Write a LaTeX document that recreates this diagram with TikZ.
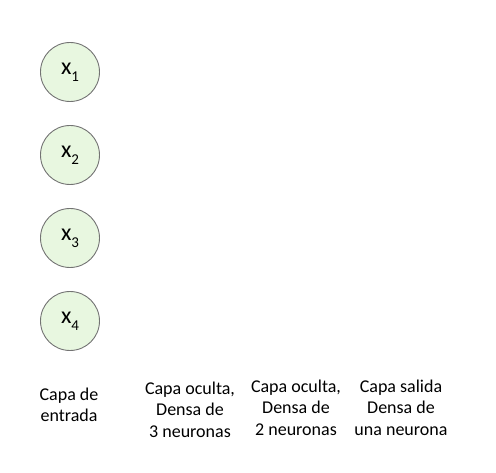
\documentclass[tikz,border=0pt]{standalone}
\usepackage{fontspec}
\setmainfont{Carlito}
\begin{document}
\begin{tikzpicture}[x=1pt,y=1pt,
  neuron/.style={circle,draw=black!55,line width=0.9pt,fill=green!50!olive!12,minimum size=59pt,inner sep=0pt,font=\fontsize{24}{24}\selectfont},
  layerlabel/.style={align=center,font=\fontsize{18}{21.5}\selectfont,anchor=north}]
\useasboundingbox (0,0) rectangle (496,472);
\newcommand{\xsub}[1]{x\raisebox{-0.28em}{\fontsize{15}{15}\selectfont #1}}
\node[neuron] (x1) at (70,400) {\xsub{1}};
\node[neuron] (x2) at (70,317) {\xsub{2}};
\node[neuron] (x3) at (70,234) {\xsub{3}};
\node[neuron] (x4) at (70,151) {\xsub{4}};
\node[layerlabel] (l1) at (69,88) {Capa de\\entrada};
\node[layerlabel] (l2) at (190,94) {Capa oculta,\\Densa de\\3 neuronas};
\node[layerlabel] (l3) at (296,96) {Capa oculta,\\Densa de\\2 neuronas};
\node[layerlabel] (l4) at (401,96) {Capa salida\\Densa de\\una neurona};
\end{tikzpicture}
\end{document}
